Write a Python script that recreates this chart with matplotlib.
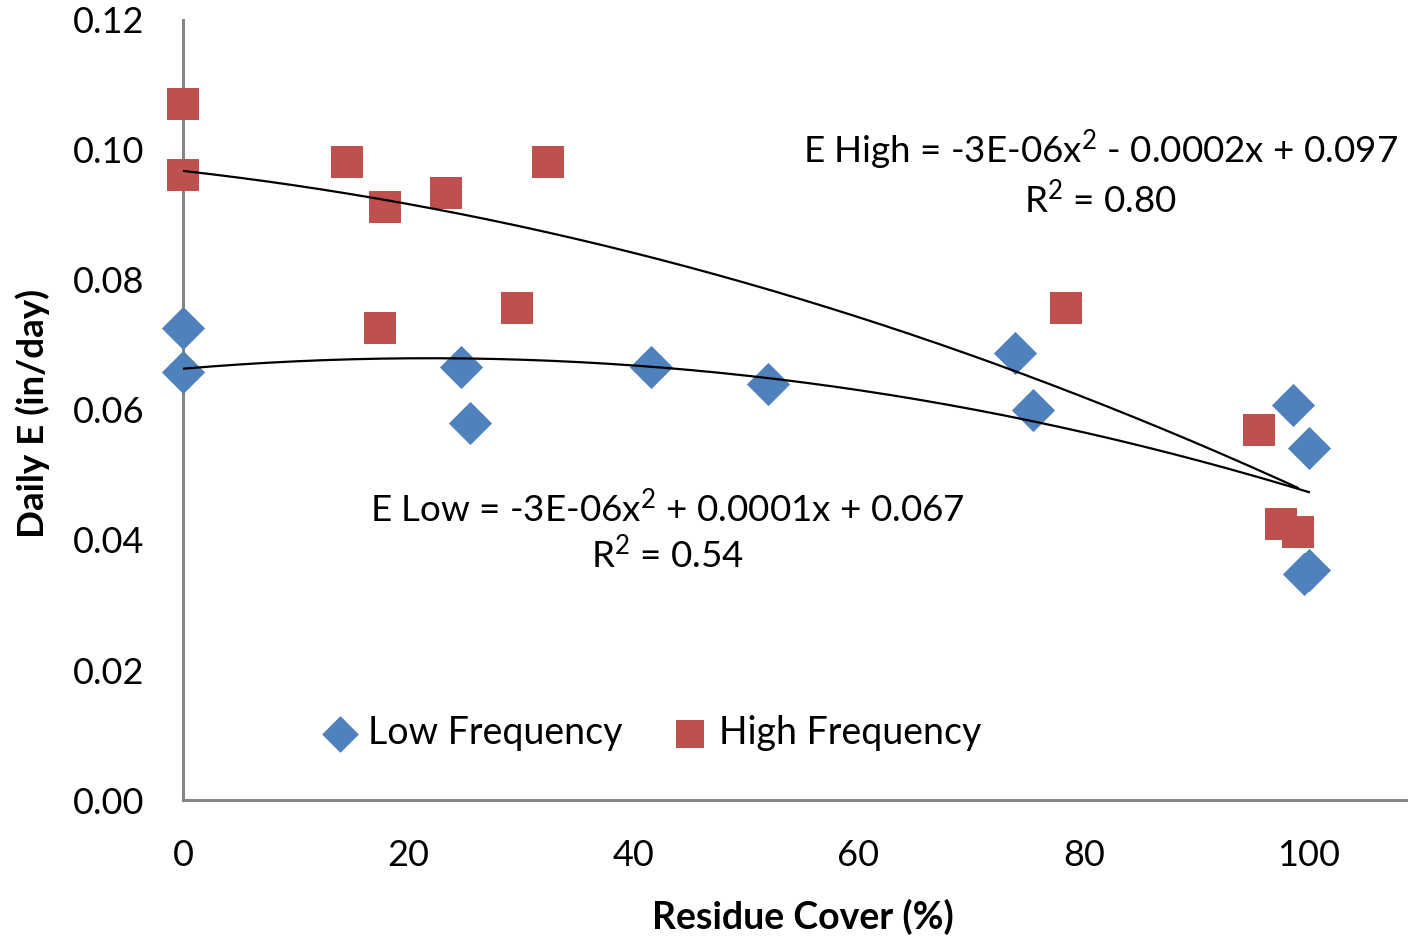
import numpy as np
import matplotlib
matplotlib.use("Agg")
import matplotlib.pyplot as plt

plt.rcParams['font.family'] = ['Lato', 'DejaVu Sans']
plt.rcParams['mathtext.fontset'] = 'custom'
plt.rcParams['mathtext.rm'] = 'Lato'
plt.rcParams['mathtext.it'] = 'Lato'

# Low frequency measurements (residue cover %, daily E in/day)
low_x = [0, 0, 24.7, 25.5, 41.6, 52.0, 73.9, 75.5, 98.6, 100, 99.6, 100]
low_y = [0.0726, 0.0658, 0.0666, 0.0580, 0.0666, 0.0640, 0.0688, 0.0600,
         0.0608, 0.0542, 0.0348, 0.0354]

# High frequency measurements
high_x = [0, 0, 14.6, 17.9, 17.5, 23.4, 32.4, 29.7, 78.4, 95.6, 97.5, 99.0]
high_y = [0.1071, 0.0962, 0.0982, 0.0912, 0.0726, 0.0934, 0.0982, 0.0757,
          0.0757, 0.0569, 0.0425, 0.0412]

low_eq = "E Low = -3E-06x$^2$ + 0.0001x + 0.067\nR$^2$ = 0.54"
high_eq = "E High = -3E-06x$^2$ - 0.0002x + 0.097\nR$^2$ = 0.80"

x_ticks = [0, 20, 40, 60, 80, 100]
y_ticks = [0.00, 0.02, 0.04, 0.06, 0.08, 0.10, 0.12]

blue = '#4F81BD'
red = '#C0504D'
axis_gray = '#868686'


def trend(x, y):
    c = np.polyfit(x, y, 2)
    xs = np.linspace(min(x), max(x), 200)
    return xs, np.polyval(c, xs)


fig = plt.figure(figsize=(14.08, 9.36), dpi=100)
ax = fig.add_axes([183 / 1408, 1 - 800 / 936, 1225 / 1408, 780 / 936])

ax.scatter(low_x, low_y, marker='D', s=22 ** 2, color=blue, label='Low Frequency',
           linewidths=0, zorder=3, clip_on=False)
ax.scatter(high_x, high_y, marker='s', s=23 ** 2, color=red, label='High Frequency',
           linewidths=0, zorder=3, clip_on=False)

xs, ys = trend(low_x, low_y)
ax.plot(xs, ys, color='black', lw=1.6, zorder=4)
xs, ys = trend(high_x, high_y)
ax.plot(xs, ys, color='black', lw=1.6, zorder=4)

ax.text(81.5, 0.0964, high_eq, ha='center', va='center', fontsize=26.5,
        linespacing=1.2, multialignment='center')
ax.text(43.0, 0.0413, low_eq, ha='center', va='center', fontsize=26.5,
        linespacing=1.2, multialignment='center')

ax.set_xlim(0, 108.8)
ax.set_ylim(0, 0.12)
ax.set_xticks(x_ticks)
ax.set_yticks(y_ticks)
ax.set_yticklabels([f'{v:.2f}' for v in y_ticks])
ax.tick_params(length=0, labelsize=26, pad=28, colors='black')

for side in ['top', 'right']:
    ax.spines[side].set_visible(False)
for side in ['left', 'bottom']:
    ax.spines[side].set_color(axis_gray)
    ax.spines[side].set_linewidth(2.2)

ax.set_xlabel('Residue Cover (%)', fontsize=27, fontweight='bold', va='center')
ax.xaxis.set_label_coords(0.506, -0.15)
ax.set_ylabel('Daily E (in/day)', fontsize=26.5, fontweight='bold', va='center')
ax.yaxis.set_label_coords(-0.1224, 0.495)

leg = ax.legend(loc='center', bbox_to_anchor=(0.383, 0.086), ncol=2, frameon=False,
                fontsize=27, handlelength=0.9, handletextpad=0.3, columnspacing=1.35,
                markerscale=0.85, scatterpoints=1)

fig.savefig('out.png', dpi=100)
